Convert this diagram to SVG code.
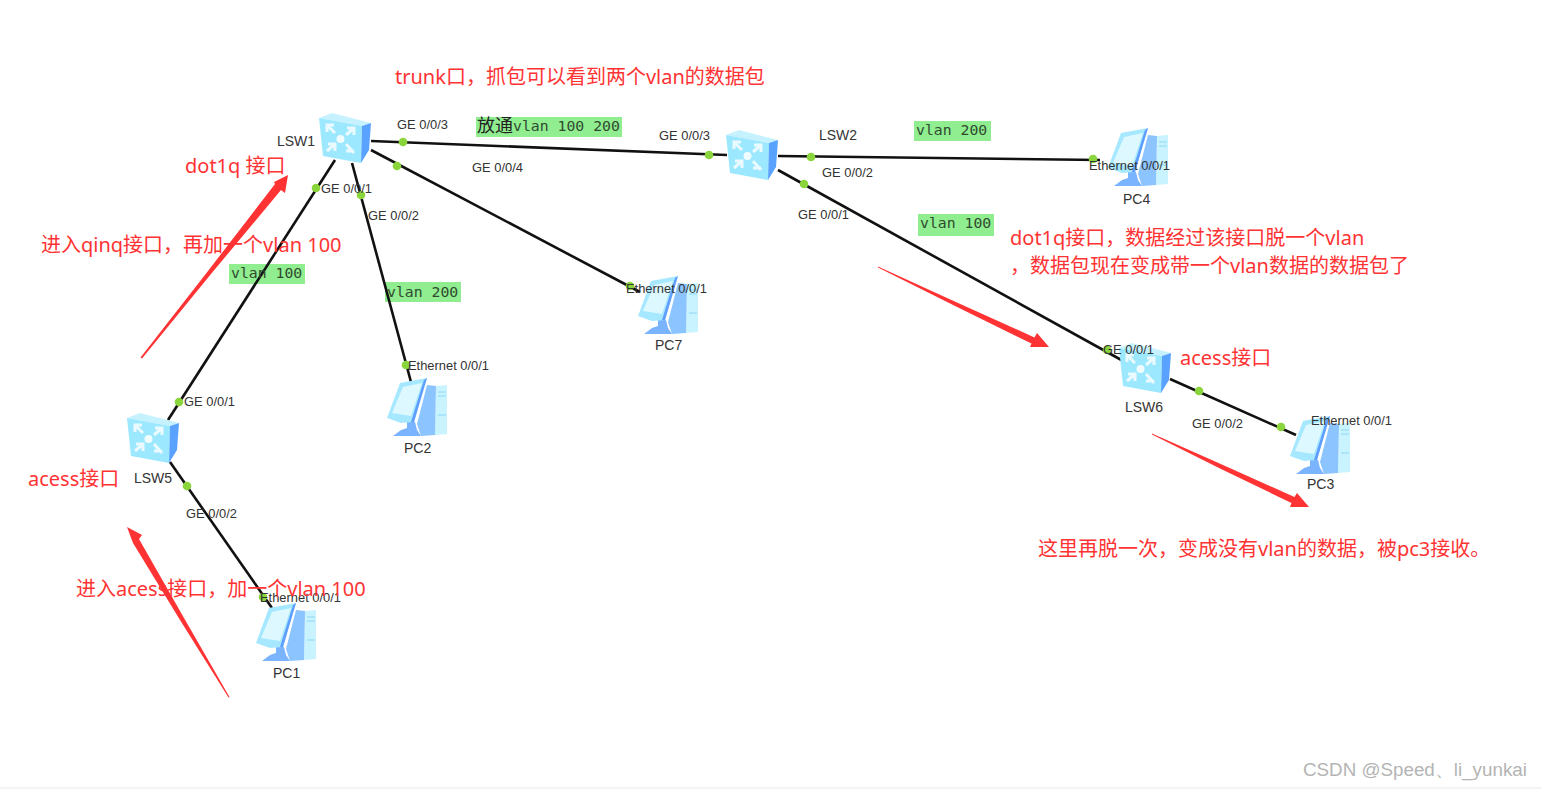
<svg xmlns="http://www.w3.org/2000/svg" xmlns:xlink="http://www.w3.org/1999/xlink" width="1541" height="789" viewBox="0 0 1541 789">
<style>
.link{stroke:#111;stroke-width:2.6;fill:none}
.dot{fill:#8ad43c}
.port{font:12.900px "Liberation Sans",Arial,sans-serif;fill:#333}
.name{font:14px "Liberation Sans",Arial,sans-serif;fill:#333}
.tag{fill:#90ee90}
.mono{font:14.8px "DejaVu Sans Mono",monospace;fill:#2f4a2f}
.cjk{font:18px "Noto Sans CJK SC",sans-serif;fill:#222}
.note{font:20px "Noto Sans","Noto Sans CJK SC",sans-serif;fill:#f33}
.arrow{fill:#f33}
</style>
<defs>
<g id="sw">
<polygon points="0,5 13,0 52,10 43,13" fill="#c6f2ff"/>
<polygon points="0,5 43,13 42,50 4,43" fill="#9ce8ff"/>
<polygon points="43,13 52,10 50,37 42,50" fill="#5aa2ff"/>
<circle cx="21.500" cy="26" r="4" fill="#f1fcff"/>
<g fill="none" stroke="#eafaff" stroke-width="3">
<path d="M8 12 L16 20 M8 19 V12 H15"/>
<path d="M35 15 L27 22 M35 22 V15 H28"/>
<path d="M16 31 L8 38 M9 31 H16 V38"/>
<path d="M27 31 L35 40 M27 38 H35"/>
</g>
</g>
<g id="pc">
<polygon points="49,8 60,7 60,56 48,57" fill="#c8f3ff"/>
<polygon points="40,7 49,8 48,57 34,58 30,46" fill="#8cc4ff"/>
<polygon points="20,44 28,44 30,52 34,58 6,58 14,52 20,50" fill="#7ab4ff"/>
<polygon points="0,40 13,5 40,0 27,44 14,45" fill="#a6e8ff"/>
<polygon points="37,2 40,0 27,44 24,44" fill="#5f9dff"/>
<polygon points="5,35 16,9 35,5 24,38" fill="#ddf9ff"/>
<path d="M51 14 H59 M51 18 H59 M51 37 H59" stroke="#8fd8f5" stroke-width="1"/>
</g>
</defs>
<rect width="1541" height="789" fill="#fff"/>
<rect y="787" width="1541" height="2" fill="#f4f4f4"/>

<g id="tags">
<rect class="tag" x="229" y="264" width="76" height="20"/>
<rect class="tag" x="385" y="282" width="76" height="20"/>
<rect class="tag" x="476" y="117" width="146" height="20"/>
<rect class="tag" x="914" y="121" width="77" height="20"/>
<rect class="tag" x="918" y="214" width="76" height="22"/>
</g>

<g id="connectors">
<line class="link" x1="371" y1="141" x2="727" y2="155"/>
<line class="link" x1="778" y1="156" x2="1100" y2="160"/>
<line class="link" x1="371" y1="150" x2="640" y2="292"/>
<line class="link" x1="352" y1="163" x2="411" y2="382"/>
<line class="link" x1="335" y1="160" x2="168" y2="420"/>
<line class="link" x1="170" y1="462" x2="272" y2="608"/>
<line class="link" x1="778" y1="170" x2="1125" y2="362"/>
<line class="link" x1="1170" y1="379" x2="1296" y2="435"/>
<g class="dots">
<circle class="dot" cx="403" cy="142" r="4.300"/>
<circle class="dot" cx="397" cy="166" r="4.300"/>
<circle class="dot" cx="361" cy="195" r="4.300"/>
<circle class="dot" cx="316" cy="188" r="4.300"/>
<circle class="dot" cx="179" cy="402" r="4.300"/>
<circle class="dot" cx="187" cy="486" r="4.300"/>
<circle class="dot" cx="406" cy="365" r="4.300"/>
<circle class="dot" cx="709" cy="155" r="4.300"/>
<circle class="dot" cx="811" cy="157" r="4.300"/>
<circle class="dot" cx="804" cy="184" r="4.300"/>
<circle class="dot" cx="1093" cy="159" r="4.300"/>
<circle class="dot" cx="630" cy="286" r="4.300"/>
<circle class="dot" cx="1107" cy="350" r="4.300"/>
<circle class="dot" cx="1199" cy="391" r="4.300"/>
<circle class="dot" cx="1281" cy="427" r="4.300"/>
<circle class="dot" cx="263" cy="597" r="4.300"/>
</g>
</g>

<g id="LSW1"><use xlink:href="#sw" href="#sw" x="319" y="113"/><text class="name" x="277" y="146">LSW1</text></g>
<g id="LSW2"><use xlink:href="#sw" href="#sw" x="726" y="130"/><text class="name" x="819" y="140">LSW2</text></g>
<g id="LSW5"><use xlink:href="#sw" href="#sw" x="127" y="413"/><text class="name" x="134" y="483">LSW5</text></g>
<g id="LSW6"><use xlink:href="#sw" href="#sw" x="1119" y="343"/><text class="name" x="1125" y="412">LSW6</text></g>
<g id="PC1"><use xlink:href="#pc" href="#pc" x="256" y="603"/><text class="name" x="273" y="678">PC1</text></g>
<g id="PC2"><use xlink:href="#pc" href="#pc" x="387" y="378"/><text class="name" x="404" y="453">PC2</text></g>
<g id="PC3"><use xlink:href="#pc" href="#pc" x="1290" y="416"/><text class="name" x="1307" y="489">PC3</text></g>
<g id="PC4"><use xlink:href="#pc" href="#pc" x="1108" y="128"/><text class="name" x="1123" y="204">PC4</text></g>
<g id="PC7"><use xlink:href="#pc" href="#pc" x="638" y="276"/><text class="name" x="655" y="350">PC7</text></g>

<g id="port-labels">
<text class="port" x="397" y="129">GE 0/0/3</text>
<text class="port" x="472" y="172">GE 0/0/4</text>
<text class="port" x="321" y="193">GE 0/0/1</text>
<text class="port" x="368" y="220">GE 0/0/2</text>
<text class="port" x="659" y="140">GE 0/0/3</text>
<text class="port" x="822" y="177">GE 0/0/2</text>
<text class="port" x="798" y="219">GE 0/0/1</text>
<text class="port" x="1089" y="170">Ethernet 0/0/1</text>
<text class="port" x="626" y="293">Ethernet 0/0/1</text>
<text class="port" x="408" y="370">Ethernet 0/0/1</text>
<text class="port" x="184" y="406">GE 0/0/1</text>
<text class="port" x="186" y="518">GE 0/0/2</text>
<text class="port" x="260" y="602">Ethernet 0/0/1</text>
<text class="port" x="1103" y="354">GE 0/0/1</text>
<text class="port" x="1192" y="428">GE 0/0/2</text>
<text class="port" x="1311" y="425">Ethernet 0/0/1</text>
</g>

<g id="tag-labels">
<text class="mono" x="231" y="278">vlan 100</text>
<text class="mono" x="387" y="297">vlan 200</text>
<text x="477" y="132" class="cjk">放通</text>
<text class="mono" x="513" y="131">vlan 100 200</text>
<text class="mono" x="916" y="135">vlan 200</text>
<text class="mono" x="920" y="228">vlan 100</text>
</g>

<g id="annotations">
<polygon class="arrow" points="140.500,357.500 208,271 275,184 274,182 288,175 285,193 281,190 211,274 142,358.500"/>
<polygon class="arrow" points="229.500,697 184,618 139,539 142,535 127,527 133,543 133,543 180,620 228.500,697.500"/>
<polygon class="arrow" points="878,266.500 956.400,302.200 1034.500,337.400 1037,333 1049,347 1030,347 1031.500,343.500 954.600,305.800 878,267.500"/>
<polygon class="arrow" points="1152,433.500 1223,465 1294.500,497 1297,493 1309,507 1290,507 1291.500,503 1221,469 1152,434.500"/>
<text class="note" x="395" y="84">trunk口，抓包可以看到两个vlan的数据包</text>
<text class="note" x="185" y="173">dot1q 接口</text>
<text class="note" x="41" y="252">进入qinq接口，再加一个vlan 100</text>
<text class="note" x="28" y="486">acess接口</text>
<text class="note" x="76" y="596">进入acess接口，加一个vlan 100</text>
<text class="note" x="1010" y="245">dot1q接口，数据经过该接口脱一个vlan</text>
<text class="note" x="1010" y="273">，数据包现在变成带一个vlan数据的数据包了</text>
<text class="note" x="1180" y="365">acess接口</text>
<text class="note" x="1038" y="556">这里再脱一次，变成没有vlan的数据，被pc3接收。</text>
</g>
<text id="watermark" x="1303" y="776" style="font:18.800px 'Liberation Sans',Arial,sans-serif;fill:#b4b4b4">CSDN @Speed、li_yunkai</text>
</svg>
